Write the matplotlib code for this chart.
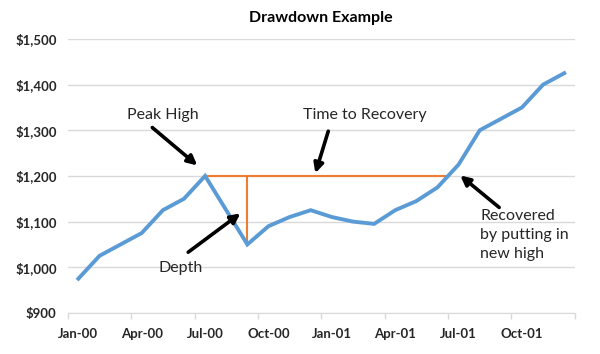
import numpy as np
import matplotlib
matplotlib.use('Agg')
import matplotlib.pyplot as plt

# monthly values, Jan-00 .. Dec-01
months = ['Jan-00', 'Feb-00', 'Mar-00', 'Apr-00', 'May-00', 'Jun-00',
          'Jul-00', 'Aug-00', 'Sep-00', 'Oct-00', 'Nov-00', 'Dec-00',
          'Jan-01', 'Feb-01', 'Mar-01', 'Apr-01', 'May-01', 'Jun-01',
          'Jul-01', 'Aug-01', 'Sep-01', 'Oct-01', 'Nov-01', 'Dec-01']
values = [975, 1025, 1050, 1075, 1125, 1150,
          1200, 1125, 1050, 1090, 1110, 1125,
          1110, 1100, 1095, 1125, 1145, 1175,
          1225, 1300, 1325, 1350, 1400, 1425]
tick_labels = ['Jan-00', 'Apr-00', 'Jul-00', 'Oct-00', 'Jan-01', 'Apr-01', 'Jul-01', 'Oct-01']

plt.rcParams['font.family'] = ['Lato', 'DejaVu Sans']

blue = '#5B9BD5'
orange = '#ED7D31'
grid_c = '#D9D9D9'
txt_c = '#262626'

x = np.arange(len(values))
vals = np.array(values)

# peak, trough and recovery taken from the series
peak_idx = int(np.argmax(vals[:12]))
trough_idx = peak_idx + int(np.argmin(vals[peak_idx:12]))
peak_val = vals[peak_idx]
rec = trough_idx + int(np.argmax(vals[trough_idx:] >= peak_val))
rec_x = rec - 1 + (peak_val - vals[rec - 1]) / (vals[rec] - vals[rec - 1])

fig = plt.figure(figsize=(6, 3.54), dpi=100)
ax = fig.add_axes([0.113, 0.116, 0.845, 0.774])

ax.plot(x, vals, color=blue, lw=2.8, solid_joinstyle='miter', zorder=3)
ax.plot([peak_idx, rec_x], [peak_val, peak_val], color=orange, lw=1.5, zorder=2)
ax.plot([trough_idx, trough_idx], [vals[trough_idx], peak_val], color=orange, lw=1.5, zorder=2)

ax.set_xlim(-0.5, len(values) - 0.5)
ax.set_ylim(900, 1500)
ax.set_yticks(np.arange(900, 1501, 100))
ax.set_yticklabels(['${:,.0f}'.format(v) for v in np.arange(900, 1501, 100)],
                   fontsize=9.5, fontweight='bold', color=txt_c)
ax.yaxis.grid(True, color=grid_c, lw=1)
ax.set_axisbelow(True)
ax.tick_params(axis='y', length=0, pad=8)

# ticks at month boundaries, labels centred on months
ax.set_xticks(np.arange(-0.5, len(values), 3))
ax.set_xticklabels([])
ax.set_xticks(np.arange(0, len(values), 3), minor=True)
ax.set_xticklabels(tick_labels, minor=True, fontsize=9.5, fontweight='bold', color=txt_c)
ax.tick_params(axis='x', which='major', length=4, color=grid_c, width=1)
ax.tick_params(axis='x', which='minor', length=0, pad=11)

for s in ['top', 'right', 'left']:
    ax.spines[s].set_visible(False)
ax.spines['bottom'].set_color(grid_c)

ax.set_title('Drawdown Example', fontsize=11.5, fontweight='bold', color='black', pad=12)

arrow = dict(arrowstyle='-|>', lw=2.6, color='black', mutation_scale=14, shrinkA=0, shrinkB=0)
fs = 11.5
ax.annotate('', xy=(5.63, 1223), xytext=(3.5, 1306), arrowprops=arrow)
ax.text(4.02, 1333, 'Peak High', fontsize=fs, ha='center', va='center', color=txt_c)
ax.annotate('', xy=(11.22, 1206), xytext=(11.83, 1298), arrowprops=arrow)
ax.text(13.54, 1333, 'Time to Recovery', fontsize=fs, ha='center', va='center', color=txt_c)
ax.annotate('', xy=(7.67, 1118), xytext=(5.2, 1033), arrowprops=arrow)
ax.text(4.83, 998, 'Depth', fontsize=fs, ha='center', va='center', color=txt_c)
ax.annotate('', xy=(18.08, 1201), xytext=(19.92, 1131), arrowprops=arrow)
ax.text(19.02, 1127, 'Recovered\nby putting in\nnew high', fontsize=fs, ha='left', va='top',
        color=txt_c, linespacing=1.45)

fig.savefig('out.png', dpi=100, facecolor='white')
